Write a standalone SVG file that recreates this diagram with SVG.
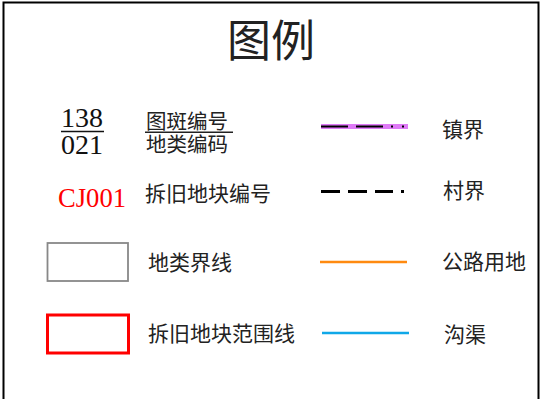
<svg xmlns="http://www.w3.org/2000/svg" width="542" height="399" viewBox="0 0 542 399">
<style>
.cjk{font-family:"Noto Sans CJK SC","Noto Sans",sans-serif;fill:#222;font-size:21px}
.num{font-family:"Liberation Serif",serif;font-size:28px;fill:#111}
</style>
<rect x="0" y="0" width="542" height="399" fill="#fff"/>
<g id="frame">
<path d="M3.5 400 V2.5 H538.5 V400" fill="none" stroke="#000" stroke-width="2"/>
</g>
<g id="title"><text x="271" y="57" text-anchor="middle" class="cjk" style="font-size:44px">图例</text></g>
<g id="legend-code">
<text x="61" y="127" class="num" textLength="42" lengthAdjust="spacingAndGlyphs">138</text>
<line x1="61" y1="131.5" x2="104" y2="131.5" stroke="#111" stroke-width="1.5"/>
<text x="61" y="154" class="num" textLength="42" lengthAdjust="spacingAndGlyphs">021</text>
<text x="146" y="129" class="cjk" style="font-size:20.5px">图斑编号</text>
<line x1="145" y1="132.3" x2="233" y2="132.3" stroke="#222" stroke-width="1.5"/>
<text x="146" y="152" class="cjk" style="font-size:20.5px">地类编码</text>
</g>
<g id="legend-cj">
<text x="58" y="207" class="num" style="fill:#ff0000" textLength="68" lengthAdjust="spacingAndGlyphs">CJ001</text>
<text x="145" y="201" class="cjk">拆旧地块编号</text>
</g>
<g id="legend-landtype">
<rect x="47.5" y="243" width="80.5" height="38" fill="none" stroke="#888" stroke-width="1.8"/>
<text x="148" y="270" class="cjk">地类界线</text>
</g>
<g id="legend-demolish">
<rect x="47.5" y="315" width="81" height="38" fill="none" stroke="#ff0000" stroke-width="3"/>
<text x="148" y="341" class="cjk">拆旧地块范围线</text>
</g>
<g id="connectors">
<g id="legend-town">
<rect x="321" y="124" width="87" height="5" fill="#df7af7"/>
<path d="M321 126.5H348M356 126.5H383M391 126.5H393M402 126.5H404" stroke="#000" stroke-width="2"/>
</g>
<g id="legend-village">
<path d="M321 191.5H340M348 191.5H367M375 191.5H393M401 191.5H404" stroke="#000" stroke-width="3"/>
</g>
<g id="legend-road">
<line x1="320" y1="262" x2="407" y2="262" stroke="#ff8a10" stroke-width="2.5"/>
</g>
<g id="legend-ditch">
<line x1="322" y1="333" x2="409" y2="333" stroke="#10a8e8" stroke-width="2.5"/>
</g>
</g>
<text x="442" y="137" class="cjk">镇界</text>
<text x="443" y="198" class="cjk">村界</text>
<text x="442" y="269" class="cjk">公路用地</text>
<text x="444" y="342" class="cjk">沟渠</text>
</svg>
